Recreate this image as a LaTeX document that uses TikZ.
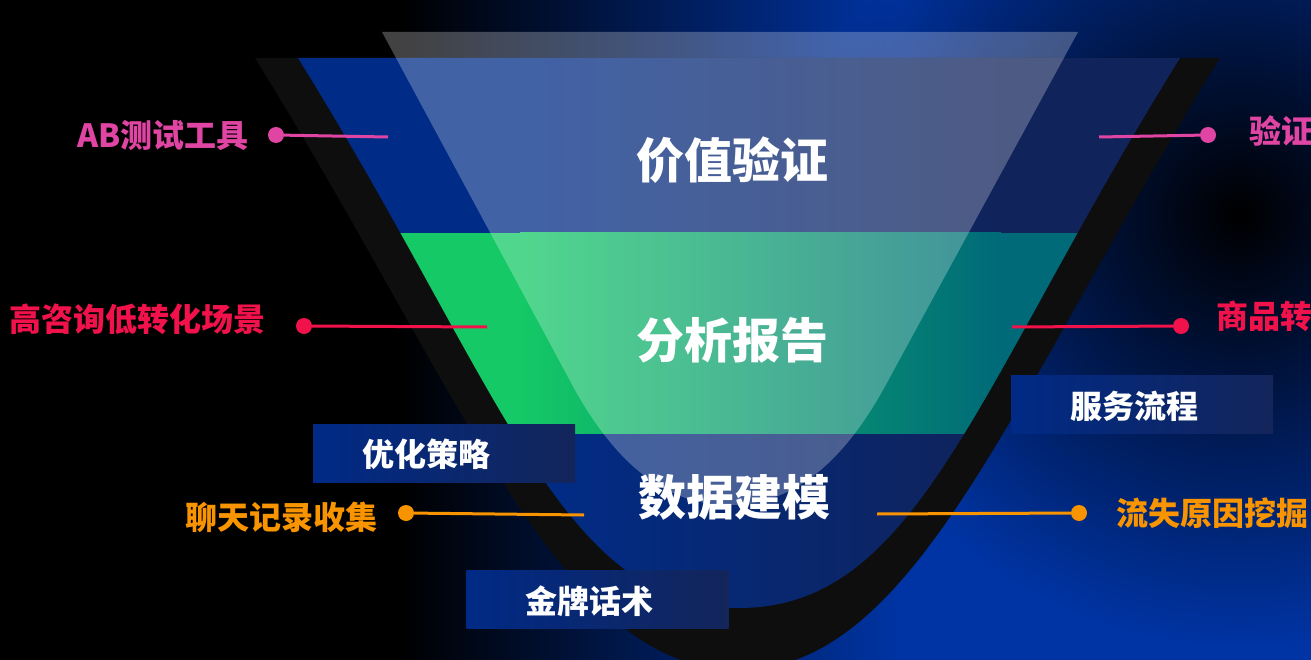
\documentclass[tikz,border=0pt]{standalone}
\usepackage{fontspec}
\setmainfont{Noto Sans CJK SC}
\usetikzlibrary{fadings}
\definecolor{bgblue}{HTML}{0034A4}
\definecolor{stripe}{HTML}{0E0E0E}
\definecolor{blueL}{HTML}{002C88}
\definecolor{blueR}{HTML}{10235A}
\definecolor{greenL}{HTML}{14C966}
\definecolor{greenR}{HTML}{006A78}
\definecolor{pinkc}{HTML}{E045A3}
\definecolor{redc}{HTML}{F2124B}
\definecolor{orangec}{HTML}{F89400}
\definecolor{boxL}{HTML}{002A86}
\definecolor{boxR}{HTML}{13255A}
\tikzfading[name=softdot, inner color=transparent!0, outer color=transparent!100]
\tikzset{
  biglabel/.style={text=white, font=\fontsize{48}{54}\selectfont\bfseries, inner sep=0pt},
  sidelabel/.style={font=\fontsize{32}{36}\selectfont\bfseries, inner sep=0pt},
  boxtext/.style={text=white, font=\fontsize{32}{36}\selectfont\bfseries, inner sep=0pt},
  tagbox/.style={rectangle, draw=none, left color=boxL, right color=boxR, minimum width=262pt, minimum height=58pt, inner sep=0pt},
  dot/.style={circle, inner sep=0pt, minimum size=16pt},
  conn/.style={line width=3pt}
}
\begin{document}
\begin{tikzpicture}[x=1pt,y=-1pt]
\useasboundingbox (0,0) rectangle (1311,660);
% background
\fill[black] (0,0) rectangle (1311,660);
\shade[left color=black, right color=bgblue] (400,0) rectangle (901,660);
\fill[bgblue] (900,0) rectangle (1311,660);
\fill[black, path fading=softdot] (1240,215) circle (430);
% outer dark funnel
\fill[stripe] (255,58) .. controls (466,398) and (560,670) .. (738,670) .. controls (916,670) and (1010,398) .. (1220,58) -- cycle;
% inner funnel bands
\begin{scope}
\clip (298,58) .. controls (503,388) and (560,608) .. (739,608) .. controls (918,608) and (975,388) .. (1180,58) -- cycle;
\fill[blueL] (290,50) rectangle (521,233);
\shade[left color=blueL, right color=blueR] (520,50) rectangle (1001,233);
\fill[blueR] (1000,50) rectangle (1190,233);
\fill[greenL] (290,233) rectangle (521,434);
\shade[left color=greenL, right color=greenR] (520,233) rectangle (1001,434);
\fill[greenR] (1000,233) rectangle (1190,434);
\fill[blueL] (290,434) rectangle (521,620);
\shade[left color=blueL, right color=blueR] (520,434) rectangle (1001,620);
\fill[blueR] (1000,434) rectangle (1190,620);
\end{scope}
% translucent overlay
\fill[white, opacity=0.26] (382,32) -- (575,390) .. controls (620,470) and (670,505) .. (729,505) .. controls (788,505) and (838,470) .. (883,390) -- (1078,32) -- cycle;
% main labels
\node[biglabel] (l1) at (732,160) {价值验证};
\node[biglabel] (l2) at (732,340) {分析报告};
\node[biglabel] (l3) at (734,497) {数据建模};
% connectors and side labels
\coordinate (e1) at (388,137);
\node[dot, fill=pinkc] (d1) at (276,135) {};
\draw[conn, pinkc] (d1) -- (e1);
\node[sidelabel, text=pinkc, anchor=east] (s1) at (249,135) {AB测试工具};

\coordinate (e2) at (1099,137);
\node[dot, fill=pinkc] (d2) at (1208,135) {};
\draw[conn, pinkc] (d2) -- (e2);
\node[sidelabel, text=pinkc, anchor=west] (s2) at (1249,131) {验证};

\coordinate (e3) at (487,327);
\node[dot, fill=redc] (d3) at (304,326) {};
\draw[conn, redc] (d3) -- (e3);
\node[sidelabel, text=redc, anchor=east] (s3) at (266,319) {高咨询低转化场景};

\coordinate (e4) at (1012,327);
\node[dot, fill=redc] (d4) at (1181,326) {};
\draw[conn, redc] (d4) -- (e4);
\node[sidelabel, text=redc, anchor=west] (s4) at (1216,316) {商品转};

\coordinate (e5) at (584,515);
\node[dot, fill=orangec] (d5) at (406,513) {};
\draw[conn, orangec] (d5) -- (e5);
\node[sidelabel, text=orangec, anchor=east] (s5) at (378,517) {聊天记录收集};

\coordinate (e6) at (877,514);
\node[dot, fill=orangec] (d6) at (1079,513) {};
\draw[conn, orangec] (d6) -- (e6);
\node[sidelabel, text=orangec, anchor=west] (s6) at (1116,513) {流失原因挖掘};
% tag boxes
\node[tagbox] (b1) at (444,453) {};
\node[boxtext] (t1) at (426,454) {优化策略};
\node[tagbox] (b2) at (1142,404) {};
\node[boxtext] (t2) at (1134,406) {服务流程};
\node[tagbox] (b3) at (597.5,599) {};
\node[boxtext] (t3) at (589.5,601) {金牌话术};
\end{tikzpicture}
\end{document}
